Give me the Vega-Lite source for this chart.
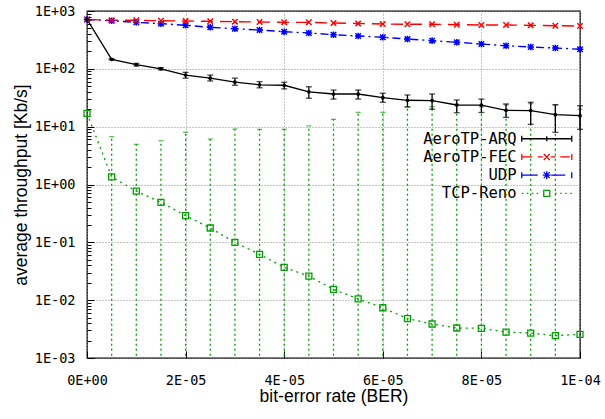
{
  "$schema": "https://vega.github.io/schema/vega-lite/v6.json",
  "width": 493,
  "height": 347,
  "autosize": "none",
  "padding": {"left": 87, "top": 11, "right": 25, "bottom": 61},
  "background": "white",
  "config": {
    "view": {"stroke": "black", "strokeWidth": 1.3},
    "axis": {
      "domain": false,
      "labelFont": "DejaVu Sans Mono",
      "labelFontSize": 13.5,
      "labelColor": "black",
      "labelFlush": false,
      "tickColor": "black",
      "tickWidth": 1,
      "gridColor": "#8a8a8a",
      "gridDash": [1, 2],
      "gridWidth": 1,
      "titleFont": "Liberation Sans",
      "titleFontSize": 17.5,
      "titleFontWeight": "normal",
      "titleColor": "black"
    }
  },
  "datasets": {
    "main": [
      {"ber": 0, "series": "AeroTP-ARQ", "v": 715, "lo": 715, "hi": 715},
      {"ber": 0.000005, "series": "AeroTP-ARQ", "v": 146, "lo": 143, "hi": 149},
      {"ber": 0.00001, "series": "AeroTP-ARQ", "v": 118, "lo": 112, "hi": 124},
      {"ber": 0.000015, "series": "AeroTP-ARQ", "v": 100, "lo": 96, "hi": 105},
      {"ber": 0.00002, "series": "AeroTP-ARQ", "v": 78, "lo": 69, "hi": 87},
      {"ber": 0.000025, "series": "AeroTP-ARQ", "v": 69, "lo": 61.6, "hi": 78},
      {"ber": 0.00003, "series": "AeroTP-ARQ", "v": 59, "lo": 52, "hi": 69},
      {"ber": 0.000035, "series": "AeroTP-ARQ", "v": 53, "lo": 47, "hi": 60},
      {"ber": 0.00004, "series": "AeroTP-ARQ", "v": 52, "lo": 45, "hi": 58.6},
      {"ber": 0.000045, "series": "AeroTP-ARQ", "v": 40, "lo": 31, "hi": 49},
      {"ber": 0.00005, "series": "AeroTP-ARQ", "v": 36.7, "lo": 30, "hi": 43},
      {"ber": 0.000055, "series": "AeroTP-ARQ", "v": 36.7, "lo": 30, "hi": 43},
      {"ber": 0.00006, "series": "AeroTP-ARQ", "v": 31.7, "lo": 26.4, "hi": 37.8},
      {"ber": 0.000065, "series": "AeroTP-ARQ", "v": 28.6, "lo": 22, "hi": 35.3},
      {"ber": 0.00007, "series": "AeroTP-ARQ", "v": 28.3, "lo": 20, "hi": 36.7},
      {"ber": 0.000075, "series": "AeroTP-ARQ", "v": 23.7, "lo": 17.4, "hi": 29},
      {"ber": 0.00008, "series": "AeroTP-ARQ", "v": 23.5, "lo": 17.6, "hi": 30},
      {"ber": 0.000085, "series": "AeroTP-ARQ", "v": 19.2, "lo": 14.5, "hi": 24.7},
      {"ber": 0.00009, "series": "AeroTP-ARQ", "v": 19.0, "lo": 11, "hi": 26.4},
      {"ber": 0.000095, "series": "AeroTP-ARQ", "v": 16.1, "lo": 8, "hi": 24},
      {"ber": 0.0001, "series": "AeroTP-ARQ", "v": 15.5, "lo": 9, "hi": 23},
      {"ber": 0, "series": "AeroTP-FEC", "v": 715},
      {"ber": 0.000005, "series": "AeroTP-FEC", "v": 690},
      {"ber": 0.00001, "series": "AeroTP-FEC", "v": 690},
      {"ber": 0.000015, "series": "AeroTP-FEC", "v": 680},
      {"ber": 0.00002, "series": "AeroTP-FEC", "v": 672},
      {"ber": 0.000025, "series": "AeroTP-FEC", "v": 663},
      {"ber": 0.00003, "series": "AeroTP-FEC", "v": 654},
      {"ber": 0.000035, "series": "AeroTP-FEC", "v": 646},
      {"ber": 0.00004, "series": "AeroTP-FEC", "v": 637},
      {"ber": 0.000045, "series": "AeroTP-FEC", "v": 637},
      {"ber": 0.00005, "series": "AeroTP-FEC", "v": 620},
      {"ber": 0.000055, "series": "AeroTP-FEC", "v": 610},
      {"ber": 0.00006, "series": "AeroTP-FEC", "v": 596},
      {"ber": 0.000065, "series": "AeroTP-FEC", "v": 590},
      {"ber": 0.00007, "series": "AeroTP-FEC", "v": 590},
      {"ber": 0.000075, "series": "AeroTP-FEC", "v": 580},
      {"ber": 0.00008, "series": "AeroTP-FEC", "v": 573},
      {"ber": 0.000085, "series": "AeroTP-FEC", "v": 573},
      {"ber": 0.00009, "series": "AeroTP-FEC", "v": 565},
      {"ber": 0.000095, "series": "AeroTP-FEC", "v": 557},
      {"ber": 0.0001, "series": "AeroTP-FEC", "v": 550},
      {"ber": 0, "series": "UDP", "v": 715},
      {"ber": 0.000005, "series": "UDP", "v": 680},
      {"ber": 0.00001, "series": "UDP", "v": 637},
      {"ber": 0.000015, "series": "UDP", "v": 604},
      {"ber": 0.00002, "series": "UDP", "v": 566},
      {"ber": 0.000025, "series": "UDP", "v": 522},
      {"ber": 0.00003, "series": "UDP", "v": 494},
      {"ber": 0.000035, "series": "UDP", "v": 469},
      {"ber": 0.00004, "series": "UDP", "v": 439},
      {"ber": 0.000045, "series": "UDP", "v": 417},
      {"ber": 0.00005, "series": "UDP", "v": 389},
      {"ber": 0.000055, "series": "UDP", "v": 370},
      {"ber": 0.00006, "series": "UDP", "v": 351},
      {"ber": 0.000065, "series": "UDP", "v": 328},
      {"ber": 0.00007, "series": "UDP", "v": 307},
      {"ber": 0.000075, "series": "UDP", "v": 288},
      {"ber": 0.00008, "series": "UDP", "v": 268},
      {"ber": 0.000085, "series": "UDP", "v": 251},
      {"ber": 0.00009, "series": "UDP", "v": 238},
      {"ber": 0.000095, "series": "UDP", "v": 229},
      {"ber": 0.0001, "series": "UDP", "v": 218},
      {"ber": 0, "series": "TCP-Reno", "v": 17, "lo": 17, "hi": 17},
      {"ber": 0.000005, "series": "TCP-Reno", "v": 1.35, "lo": 0.0001, "hi": 6.7},
      {"ber": 0.00001, "series": "TCP-Reno", "v": 0.77, "lo": 0.0001, "hi": 4.95},
      {"ber": 0.000015, "series": "TCP-Reno", "v": 0.49, "lo": 0.0001, "hi": 5.7},
      {"ber": 0.00002, "series": "TCP-Reno", "v": 0.29, "lo": 0.0001, "hi": 8.0},
      {"ber": 0.000025, "series": "TCP-Reno", "v": 0.177, "lo": 0.0001, "hi": 6.1},
      {"ber": 0.00003, "series": "TCP-Reno", "v": 0.1, "lo": 0.0001, "hi": 9.1},
      {"ber": 0.000035, "series": "TCP-Reno", "v": 0.062, "lo": 0.0001, "hi": 9.0},
      {"ber": 0.00004, "series": "TCP-Reno", "v": 0.037, "lo": 0.0001, "hi": 9.0},
      {"ber": 0.000045, "series": "TCP-Reno", "v": 0.026, "lo": 0.0001, "hi": 10.3},
      {"ber": 0.00005, "series": "TCP-Reno", "v": 0.0154, "lo": 0.0001, "hi": 13.4},
      {"ber": 0.000055, "series": "TCP-Reno", "v": 0.0105, "lo": 0.0001, "hi": 17.7},
      {"ber": 0.00006, "series": "TCP-Reno", "v": 0.0074, "lo": 0.0001, "hi": 17.7},
      {"ber": 0.000065, "series": "TCP-Reno", "v": 0.0048, "lo": 0.0001, "hi": 22},
      {"ber": 0.00007, "series": "TCP-Reno", "v": 0.00387, "lo": 0.0001, "hi": 22},
      {"ber": 0.000075, "series": "TCP-Reno", "v": 0.0033, "lo": 0.0001, "hi": 23.7},
      {"ber": 0.00008, "series": "TCP-Reno", "v": 0.00326, "lo": 0.0001, "hi": 22},
      {"ber": 0.000085, "series": "TCP-Reno", "v": 0.00281, "lo": 0.0001, "hi": 23.7},
      {"ber": 0.00009, "series": "TCP-Reno", "v": 0.0027, "lo": 0.0001, "hi": 25},
      {"ber": 0.000095, "series": "TCP-Reno", "v": 0.00243, "lo": 0.0001, "hi": 23.7},
      {"ber": 0.0001, "series": "TCP-Reno", "v": 0.00257, "lo": 0.0001, "hi": 20}
    ]
  },
  "data": {"name": "main"},
  "layer": [
    {
      "transform": [{"filter": "datum.series == 'TCP-Reno' && datum.ber > 0"}],
      "mark": {"type": "rule", "color": "#00a000", "strokeWidth": 1.3, "strokeDash": [2, 3], "clip": true},
      "encoding": {
        "x": {
          "field": "ber", "type": "quantitative",
          "scale": {"domain": [0, 0.0001], "nice": false, "zero": false},
          "axis": {
            "title": "bit-error rate (BER)",
            "values": [0, 0.00002, 0.00004, 0.00006, 0.00008, 0.0001],
            "labelExpr": "round(datum.value*100000) == 0 ? '0E+00' : (round(datum.value*100000) == 10 ? '1E-04' : round(datum.value*100000) + 'E-05')",
            "tickSize": -7,
            "labelPadding": 22,
            "titlePadding": 1,
            "grid": true
          }
        },
        "y": {
          "field": "lo", "type": "quantitative",
          "scale": {"type": "log", "domain": [0.001, 1000], "nice": false},
          "axis": {
            "title": "average throughput [Kb/s]",
            "values": [0.001,0.002,0.003,0.004,0.005,0.006,0.007,0.008,0.009,0.01,0.02,0.03,0.04,0.05,0.06,0.07,0.08,0.09,0.1,0.2,0.3,0.4,0.5,0.6,0.7,0.8,0.9,1,2,3,4,5,6,7,8,9,10,20,30,40,50,60,70,80,90,100,200,300,400,500,600,700,800,900,1000],
            "labelExpr": "abs(log(datum.value)/LN10 - round(log(datum.value)/LN10)) < 0.01 ? '1E' + (round(log(datum.value)/LN10) < 0 ? '-0' : '+0') + abs(round(log(datum.value)/LN10)) : ''",
            "tickSize": {"condition": {"test": "abs(log(datum.value)/LN10 - round(log(datum.value)/LN10)) < 0.01", "value": -7}, "value": -4},
            "gridOpacity": {"condition": {"test": "abs(log(datum.value)/LN10 - round(log(datum.value)/LN10)) < 0.01", "value": 1}, "value": 0},
            "labelPadding": 19,
            "titlePadding": 4,
            "grid": true
          }
        },
        "y2": {"field": "hi"}
      }
    },
    {
      "transform": [{"filter": "datum.series == 'TCP-Reno' && datum.ber > 0"}],
      "mark": {"type": "tick", "orient": "horizontal", "color": "#00a000", "size": 5, "thickness": 1.2},
      "encoding": {
        "x": {"field": "ber", "type": "quantitative"},
        "y": {"field": "hi", "type": "quantitative"}
      }
    },
    {
      "transform": [{"filter": "datum.series == 'AeroTP-ARQ' && datum.ber > 0"}],
      "mark": {"type": "rule", "color": "black", "strokeWidth": 1.3},
      "encoding": {
        "x": {"field": "ber", "type": "quantitative"},
        "y": {"field": "lo", "type": "quantitative"},
        "y2": {"field": "hi"}
      }
    },
    {
      "transform": [{"filter": "datum.series == 'AeroTP-ARQ' && datum.ber > 0"}],
      "mark": {"type": "tick", "orient": "horizontal", "color": "black", "size": 6, "thickness": 1.3},
      "encoding": {
        "x": {"field": "ber", "type": "quantitative"},
        "y": {"field": "hi", "type": "quantitative"}
      }
    },
    {
      "transform": [{"filter": "datum.series == 'AeroTP-ARQ' && datum.ber > 0"}],
      "mark": {"type": "tick", "orient": "horizontal", "color": "black", "size": 6, "thickness": 1.3},
      "encoding": {
        "x": {"field": "ber", "type": "quantitative"},
        "y": {"field": "lo", "type": "quantitative"}
      }
    },
    {
      "transform": [{"filter": "datum.series == 'TCP-Reno'"}],
      "mark": {"type": "line", "color": "#00a000", "strokeWidth": 1.3, "strokeDash": [2, 4]},
      "encoding": {
        "x": {"field": "ber", "type": "quantitative"},
        "y": {"field": "v", "type": "quantitative"}
      }
    },
    {
      "transform": [{"filter": "datum.series == 'UDP'"}],
      "mark": {"type": "line", "color": "#0000ff", "strokeWidth": 1.4, "strokeDash": [8, 4, 2, 4]},
      "encoding": {
        "x": {"field": "ber", "type": "quantitative"},
        "y": {"field": "v", "type": "quantitative"}
      }
    },
    {
      "transform": [{"filter": "datum.series == 'AeroTP-FEC'"}],
      "mark": {"type": "line", "color": "#ff0000", "strokeWidth": 1.4, "strokeDash": [12, 7]},
      "encoding": {
        "x": {"field": "ber", "type": "quantitative"},
        "y": {"field": "v", "type": "quantitative"}
      }
    },
    {
      "transform": [{"filter": "datum.series == 'AeroTP-ARQ'"}],
      "mark": {"type": "line", "color": "black", "strokeWidth": 1.3},
      "encoding": {
        "x": {"field": "ber", "type": "quantitative"},
        "y": {"field": "v", "type": "quantitative"}
      }
    },
    {
      "transform": [{"filter": "datum.series == 'TCP-Reno'"}],
      "mark": {"type": "point", "shape": "square", "filled": false, "color": "#00a000", "size": 36, "strokeWidth": 1.3, "opacity": 1},
      "encoding": {
        "x": {"field": "ber", "type": "quantitative"},
        "y": {"field": "v", "type": "quantitative"}
      }
    },
    {
      "transform": [{"filter": "datum.series == 'UDP'"}],
      "mark": {"type": "point", "shape": "M-1,-1L1,1M-1,1L1,-1M-1.2,0H1.2M0,-1.2V1.2", "filled": false, "color": "#0000ff", "size": 30, "strokeWidth": 1.5, "opacity": 1},
      "encoding": {
        "x": {"field": "ber", "type": "quantitative"},
        "y": {"field": "v", "type": "quantitative"}
      }
    },
    {
      "transform": [{"filter": "datum.series == 'AeroTP-FEC'"}],
      "mark": {"type": "point", "shape": "M-1,-1L1,1M-1,1L1,-1", "filled": false, "color": "#ff0000", "size": 30, "strokeWidth": 1.5, "opacity": 1},
      "encoding": {
        "x": {"field": "ber", "type": "quantitative"},
        "y": {"field": "v", "type": "quantitative"}
      }
    },
    {
      "transform": [{"filter": "datum.series == 'AeroTP-ARQ'"}],
      "mark": {"type": "point", "shape": "circle", "filled": true, "color": "black", "size": 14, "opacity": 1},
      "encoding": {
        "x": {"field": "ber", "type": "quantitative"},
        "y": {"field": "v", "type": "quantitative"}
      }
    },
    {
      "transform": [{"filter": "datum.ber < 0"}],
      "mark": {"type": "point", "filled": false, "size": 100, "strokeWidth": 1.3, "opacity": 1},
      "encoding": {
        "x": {"field": "ber", "type": "quantitative"},
        "y": {"field": "v", "type": "quantitative"},
        "color": {
          "field": "series", "type": "nominal",
          "scale": {"domain": ["AeroTP-ARQ", "AeroTP-FEC", "UDP", "TCP-Reno"], "range": ["#000000", "#ff0000", "#0000ff", "#00a000"]},
          "legend": {
            "title": null, "orient": "none", "legendX": 452, "legendY": 120,
            "labelAlign": "right", "labelOffset": -38, "labelFont": "DejaVu Sans Mono", "labelFontSize": 15.5, "labelColor": "black",
            "symbolSize": 100, "symbolStrokeWidth": 1.3, "rowPadding": 1.2, "padding": 0, "labelLimit": 300
          }
        },
        "shape": {
          "field": "series", "type": "nominal",
          "scale": {"domain": ["AeroTP-ARQ", "AeroTP-FEC", "UDP", "TCP-Reno"], "range": [
            "M-5,0H5M-5,-0.6V0.6M5,-0.6V0.6M0,-0.5V0.5",
            "M-5,-0.6V0.6M-5,0H-2.9M-1.8,0H-0.8M0.8,0H1.7M2.7,0H4.6M5,-0.6V0.6M-0.6,-0.6L0.6,0.6M-0.6,0.6L0.6,-0.6",
            "M-5,-0.6V0.6M-5,0H-1.8M0.9,0H3.7M5,-0.6V0.6M-0.6,-0.6L0.6,0.6M-0.6,0.6L0.6,-0.6M-0.8,0H0.8M0,-0.8V0.8",
            "M-5,0H-4.7M-4,0H-3.7M-3,0H-2.7M-2,0H-1.7M1.7,0H2M2.7,0H3M3.7,0H4M4.7,0H5M-0.6,-0.6H0.6V0.6H-0.6Z"
          ]},
          "legend": {
            "title": null, "orient": "none", "legendX": 452, "legendY": 120,
            "labelAlign": "right", "labelOffset": -38, "labelFont": "DejaVu Sans Mono", "labelFontSize": 15.5, "labelColor": "black",
            "symbolSize": 100, "symbolStrokeWidth": 1.3, "rowPadding": 1.2, "padding": 0, "labelLimit": 300
          }
        }
      }
    }
  ]
}
